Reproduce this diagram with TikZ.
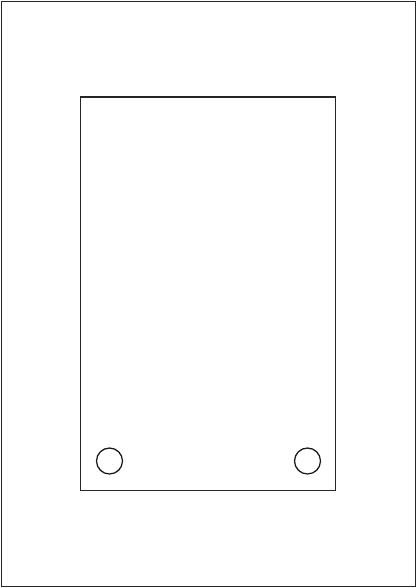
\documentclass[tikz,border=0pt]{standalone}
\usepackage{tikz}
\tikzstyle{frame} = [draw=black!85, line width=2pt]
\tikzstyle{hole} = [circle, minimum size=1.3cm, inner sep=0pt, draw=black!90, line width=1.8pt]

\begin{document}
\begin{tikzpicture}[x=0.05cm, y=-0.05cm]
	\useasboundingbox (0,0) rectangle (417,588);
	\draw [frame] (1.5,1.5) rectangle (415.5,586.5);
	\draw [frame] (80.5,97) rectangle (335.5,490.5);
	\node (holeleft) [hole] at (109.5,461) {};
	\node (holeright) [hole] at (307.5,461) {};
\end{tikzpicture}
\end{document}
